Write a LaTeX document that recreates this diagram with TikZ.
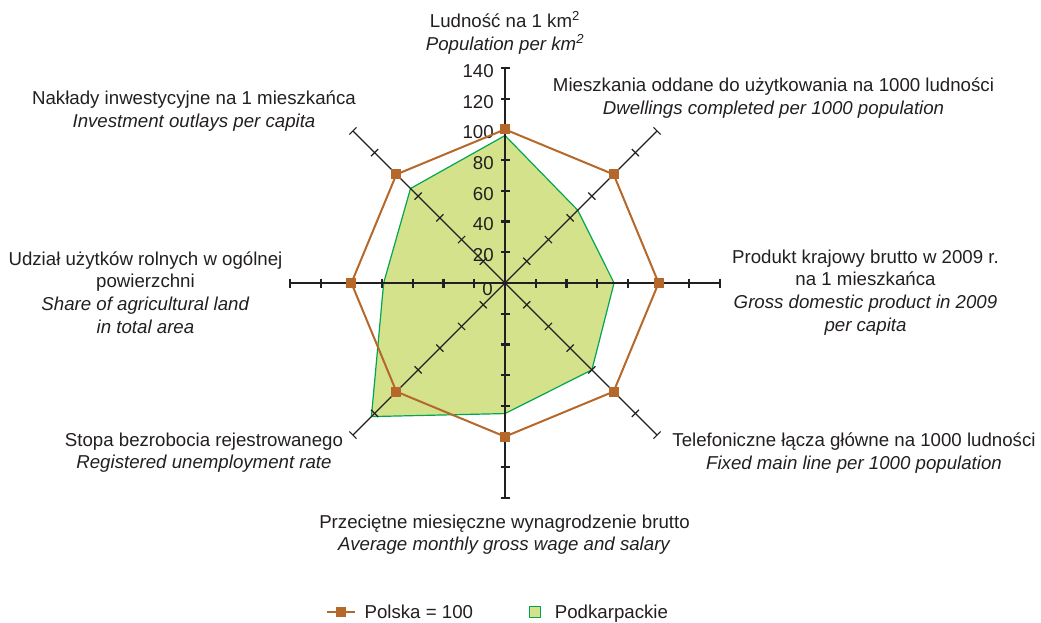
\documentclass[tikz,border=0pt]{standalone}
\usepackage{fontspec}
\setmainfont{Liberation Sans}
\usetikzlibrary{positioning,calc}
\definecolor{plorange}{HTML}{B5682A}
\definecolor{pkfill}{HTML}{D4E28B}
\definecolor{pkedge}{HTML}{00A651}
\definecolor{inkgray}{HTML}{231F20}

\begin{document}
\begin{tikzpicture}[
    x=0.75pt, y=0.75pt,
    every node/.style={font=\fontsize{14}{17}\selectfont, text=inkgray},
    lbl/.style={align=center, inner sep=0pt},
    ticklbl/.style={inner sep=0pt, anchor=east},
    legtxt/.style={inner sep=0pt, text height=1.6ex, text depth=0.4ex, yshift=-1.5pt},
    mainaxis/.style={draw=inkgray, line width=1.7pt},
    diagaxis/.style={draw=inkgray, line width=0.9pt},
    plline/.style={draw=plorange, line width=1.5pt, line join=round},
    plmark/.style={fill=plorange, draw=none, minimum size=7.5pt, inner sep=0pt},
    pkarea/.style={fill=pkfill, draw=pkedge, line width=0.9pt, line join=round},
]
\useasboundingbox (-505,-339) rectangle (536,283);
\def\rs{1.536}

% Podkarpackie values, clockwise from the top
\foreach \v [count=\i from 0] in {96,67,71,80,85,123,79,87}
    \coordinate (pk\i) at ({90-45*\i}:{\v*\rs});
% Polska = 100 on every axis
\foreach \i in {0,...,7}
    \coordinate (pl\i) at ({90-45*\i}:{100*\rs});

% === Podkarpackie area ===
\draw[pkarea] (pk0) -- (pk1) -- (pk2) -- (pk3) -- (pk4) -- (pk5) -- (pk6) -- (pk7) -- cycle;

% === Axes ===
\coordinate (ctr) at (0,0);
\foreach \a in {0,90,180,270} {
    \draw[mainaxis, rotate=\a] (ctr) -- (140*\rs,0);
    \foreach \v in {20,40,...,140}
        \draw[mainaxis, rotate=\a] (\v*\rs,-4.5) -- (\v*\rs,4.5);
}
\foreach \a in {45,135,225,315} {
    \draw[diagaxis, rotate=\a] (ctr) -- (140*\rs,0);
    \foreach \v in {20,40,...,140}
        \draw[diagaxis, rotate=\a] (\v*\rs,-5) -- (\v*\rs,5);
}

% Scale numbers on the vertical axis
\node[ticklbl] (t0) at (-12,-6) {0};
\foreach \v in {20,40,...,140}
    \node[ticklbl] (t\v) at (-11,\v*\rs-3) {\v};

% === Polska = 100 ===
\draw[plline] (pl0) -- (pl1) -- (pl2) -- (pl3) -- (pl4) -- (pl5) -- (pl6) -- (pl7) -- cycle;
\foreach \i in {0,...,7}
    \node[plmark] (m\i) at (pl\i) {};

% === Axis labels ===
\node[lbl] (lludn) at (0,250)
    {Ludność na 1 km\textsuperscript{2}\\\textit{Population per km\textsuperscript{2}}};
\node[lbl] (lmiesz) at (268.5,185)
    {Mieszkania oddane do użytkowania na 1000 ludności\\\textit{Dwellings completed per 1000 population}};
\node[lbl] (lpkb) at (360.5,-9.5)
    {Produkt krajowy brutto w 2009 r.\\na 1 mieszkańca\\\textit{Gross domestic product in 2009}\\\textit{per capita}};
\node[lbl] (ltel) at (349,-169.8)
    {Telefoniczne łącza główne na 1000 ludności\\\textit{Fixed main line per 1000 population}};
\node[lbl] (lwyn) at (-0.5,-251.5)
    {Przeciętne miesięczne wynagrodzenie brutto\\\textit{Average monthly gross wage and salary}};
\node[lbl] (lbezr) at (-301,-169.8)
    {Stopa bezrobocia rejestrowanego\\\textit{Registered unemployment rate}};
\node[lbl] (lrol) at (-359.5,-9.5)
    {Udział użytków rolnych w ogólnej\\powierzchni\\\textit{Share of agricultural land}\\\textit{in total area}};
\node[lbl] (linw) at (-311,172.2)
    {Nakłady inwestycyjne na 1 mieszkańca\\\textit{Investment outlays per capita}};

% === Legend ===
\coordinate (legA) at (-178,-329);
\coordinate (legB) at (-150,-329);
\draw[plline] (legA) -- (legB);
\node[plmark] (legmark) at ($(legA)!0.5!(legB)$) {};
\node[legtxt, anchor=west, right=7pt of legB] (legpl) {Polska = 100};
\node[pkarea, minimum size=8.5pt, inner sep=0pt] (legsq) at (30,-329) {};
\node[legtxt, anchor=west, right=10pt of legsq] (legpk) {Podkarpackie};

\end{tikzpicture}
\end{document}
